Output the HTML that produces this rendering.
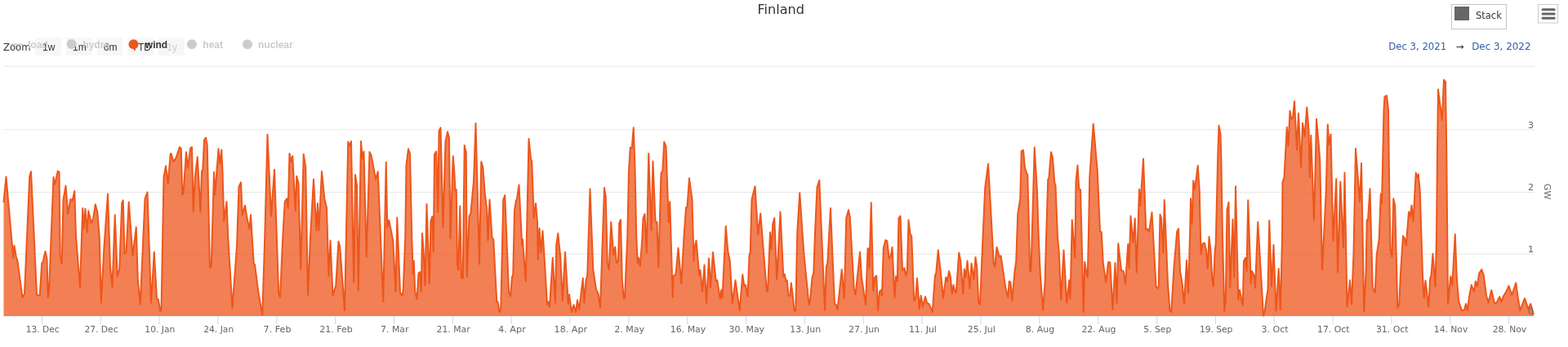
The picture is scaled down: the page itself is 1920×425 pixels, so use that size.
<!DOCTYPE html>
<html><head><meta charset="utf-8"><title>Finland</title>
<style>
html,body{margin:0;padding:0;background:#fff;overflow:hidden}
body{width:1920px;height:425px}
svg{display:block;font-family:"DejaVu Sans","Liberation Sans",sans-serif}
</style></head><body>
<svg width="1920" height="425" viewBox="0 0 1920 425">
<rect width="1920" height="425" fill="#fff"/>
<path d="M4 81.25 H1879" stroke="#e6e6e6" stroke-width="1" fill="none"/><path d="M4 158.75 H1879" stroke="#e6e6e6" stroke-width="1" fill="none"/><path d="M4 235.4 H1879" stroke="#e6e6e6" stroke-width="1" fill="none"/><path d="M4 311.1 H1879" stroke="#e6e6e6" stroke-width="1" fill="none"/>
<path d="M4 387 H1879" stroke="#ccd6eb" stroke-width="1" fill="none"/>
<path d="M4.5 247.1 L7.5 216.6 L16.25 315.85 L17.5 300.85 L20.0 315.85 L21.25 318.35 L27.5 364.6 L30.0 359.6 L36.25 215.85 L38.0 210.1 L45.0 360.85 L48.75 362.1 L51.25 322.1 L52.5 320.85 L55.5 307.85 L57.5 317.1 L58.75 364.6 L60.0 357.1 L65.5 217.1 L67.0 225.85 L70.75 209.6 L72.5 210.85 L73.75 314.6 L75.75 323.35 L77.5 244.6 L80.5 227.6 L83.25 262.1 L86.25 244.1 L88.75 245.1 L91.25 234.1 L93.0 289.6 L98.0 352.1 L100.0 290.6 L101.25 255.1 L102.5 279.6 L104.5 255.85 L106.75 284.6 L108.25 258.35 L111.75 273.35 L114.25 267.1 L116.75 250.35 L119.25 259.6 L121.75 290.6 L123.75 370.85 L127.5 302.1 L132.0 237.6 L135.0 327.1 L137.5 351.6 L140.75 263.35 L143.75 338.35 L146.25 329.6 L149.25 248.35 L150.75 245.35 L152.5 310.85 L154.5 308.35 L157.75 247.6 L162.5 313.35 L166.75 278.35 L168.75 342.1 L171.75 372.6 L177.5 243.35 L180.5 235.35 L185.0 370.85 L188.75 308.85 L192.0 365.85 L193.75 366.6 L196.25 380.85 L197.5 380.35 L200.5 217.1 L203.0 203.35 L205.75 224.6 L208.75 188.35 L209.5 188.1 L212.5 198.1 L215.5 193.35 L220.0 180.1 L221.75 181.85 L223.25 238.35 L224.5 237.1 L228.0 186.35 L230.0 205.85 L233.0 181.85 L235.0 180.1 L236.75 259.6 L238.75 217.1 L241.75 192.35 L245.5 259.6 L247.0 209.6 L248.25 208.85 L250.0 171.85 L252.0 168.6 L253.75 178.1 L257.0 328.35 L258.75 325.85 L262.0 210.85 L263.25 238.35 L267.5 182.35 L269.5 200.6 L271.25 183.6 L272.5 209.6 L274.25 270.85 L277.5 247.1 L279.25 290.6 L284.5 377.1 L290.0 302.1 L292.5 228.35 L295.0 223.35 L296.75 263.35 L300.0 251.6 L302.5 267.1 L305.5 280.85 L307.0 263.35 L310.75 323.35 L312.0 323.85 L316.25 357.1 L321.25 385.85 L324.25 290.6 L327.5 164.85 L332.0 264.6 L336.0 207.85 L341.25 359.6 L343.0 364.1 L346.25 290.6 L348.75 247.1 L351.25 243.35 L352.75 254.6 L354.5 188.1 L356.5 198.1 L358.25 191.1 L361.75 258.35 L363.25 215.85 L365.5 224.6 L368.25 329.6 L371.75 188.85 L374.25 204.6 L377.0 361.6 L380.0 290.6 L384.0 219.6 L387.5 282.1 L389.0 249.1 L390.5 282.1 L394.0 210.1 L397.5 244.6 L400.0 254.6 L402.5 338.35 L404.5 294.6 L407.5 362.1 L411.25 349.6 L414.5 295.85 L416.25 302.1 L422.0 380.1 L426.25 173.85 L428.0 178.6 L430.0 173.1 L433.25 345.85 L435.0 214.1 L437.0 227.1 L438.75 355.85 L442.0 173.1 L443.75 194.35 L445.5 185.6 L448.75 314.6 L452.5 186.1 L454.25 189.35 L455.0 192.1 L457.5 205.85 L460.0 219.6 L462.75 210.35 L469.25 369.6 L472.75 198.85 L474.25 278.35 L476.25 269.6 L481.25 294.6 L484.5 357.1 L486.25 266.6 L490.0 358.35 L492.5 362.1 L493.75 354.6 L496.25 290.6 L497.5 202.1 L500.0 182.35 L502.0 188.1 L504.25 290.6 L505.75 335.85 L506.75 319.6 L508.25 357.1 L510.5 366.35 L512.5 334.6 L514.25 333.35 L515.75 357.1 L517.0 285.85 L518.75 309.6 L520.5 349.6 L522.5 250.1 L525.75 347.1 L527.5 270.85 L529.25 265.1 L530.75 308.35 L532.0 189.6 L532.5 188.1 L534.25 185.6 L536.25 259.6 L537.5 160.6 L539.5 156.35 L542.5 278.35 L545.5 173.1 L548.0 161.35 L550.0 169.35 L551.5 292.1 L554.75 191.35 L556.25 209.6 L557.5 233.35 L558.75 232.1 L560.0 323.35 L561.25 330.85 L563.25 252.6 L565.0 340.1 L566.75 340.85 L568.75 178.1 L570.75 186.85 L571.75 339.1 L574.5 264.6 L576.25 262.1 L580.0 222.1 L582.5 151.1 L587.0 323.35 L589.25 198.1 L591.25 204.6 L593.75 237.1 L596.25 257.1 L597.5 294.6 L599.5 244.6 L602.5 290.85 L604.25 293.35 L608.25 369.6 L609.5 369.6 L611.75 382.6 L613.25 378.35 L616.25 244.6 L618.25 239.1 L623.0 357.1 L625.0 362.6 L627.0 339.6 L628.25 335.85 L630.0 258.35 L631.75 245.85 L633.0 243.35 L635.5 226.6 L639.25 300.85 L640.0 293.35 L643.75 344.6 L647.5 170.1 L650.0 194.35 L651.25 198.35 L653.75 267.1 L656.0 249.1 L658.0 272.1 L658.75 318.35 L660.5 279.6 L662.5 309.6 L664.5 282.85 L666.25 309.6 L670.0 373.35 L671.25 369.6 L673.0 375.85 L676.75 315.85 L680.0 370.85 L681.25 299.6 L683.25 285.85 L686.25 314.6 L688.75 368.35 L692.0 308.85 L695.75 372.1 L697.0 360.85 L700.0 382.1 L702.5 373.35 L705.0 382.6 L707.0 367.6 L709.25 379.1 L713.75 340.85 L715.5 370.85 L717.5 343.35 L719.25 337.1 L722.5 231.6 L726.25 329.6 L730.0 354.6 L732.5 359.6 L735.0 376.6 L740.0 230.1 L741.75 240.85 L743.75 322.1 L745.75 330.1 L748.25 272.1 L751.25 312.1 L753.25 302.6 L755.0 322.1 L757.0 319.6 L758.25 273.35 L760.0 269.1 L761.75 342.1 L763.75 365.85 L765.0 364.6 L768.25 290.6 L770.0 209.6 L771.75 180.6 L773.75 181.1 L775.75 156.35 L777.5 205.6 L779.25 290.6 L780.75 322.1 L782.0 315.85 L783.75 325.85 L786.25 294.6 L787.5 267.1 L789.5 262.1 L791.75 309.6 L794.25 188.1 L797.5 282.1 L799.5 197.6 L802.5 270.85 L804.5 272.1 L806.25 327.1 L809.5 212.1 L811.25 209.6 L813.25 173.85 L815.5 179.35 L818.75 272.1 L820.25 247.1 L823.75 364.1 L824.5 338.35 L827.5 335.85 L830.5 303.85 L834.25 347.1 L837.5 289.6 L840.0 254.1 L841.5 253.35 L844.0 218.35 L847.5 244.6 L849.5 319.6 L850.75 302.1 L852.5 294.6 L856.25 337.1 L857.5 330.85 L860.0 357.1 L862.5 324.6 L865.0 370.85 L868.0 316.6 L870.0 352.1 L873.0 309.1 L876.75 344.6 L878.25 343.35 L881.75 365.85 L883.25 355.35 L884.5 364.6 L888.75 277.1 L891.25 307.1 L893.75 319.6 L896.75 371.6 L900.5 343.35 L905.75 380.35 L909.25 336.35 L911.25 350.1 L913.0 349.1 L915.5 363.35 L917.5 313.35 L918.75 308.35 L920.5 244.6 L924.5 228.35 L928.25 287.1 L931.25 261.6 L938.75 355.85 L940.0 357.1 L943.0 284.6 L944.5 305.85 L946.25 274.6 L948.25 267.1 L951.25 342.1 L955.5 259.6 L959.25 338.35 L960.75 335.85 L962.5 344.6 L963.75 343.35 L965.5 362.1 L967.5 362.6 L968.75 346.6 L970.5 359.6 L972.5 380.35 L974.25 380.85 L976.25 284.6 L979.25 236.35 L984.25 309.6 L987.5 342.1 L990.5 373.35 L991.75 369.6 L994.5 339.6 L996.25 334.6 L998.0 284.6 L1000.5 229.6 L1003.25 220.85 L1006.25 290.6 L1010.0 379.6 L1011.75 327.1 L1013.25 322.1 L1017.0 255.1 L1019.25 309.6 L1022.0 372.1 L1023.75 373.35 L1025.5 379.6 L1030.75 330.1 L1033.75 365.1 L1036.25 267.1 L1039.0 257.1 L1040.75 265.85 L1045.75 354.6 L1047.5 360.85 L1053.0 308.85 L1055.0 339.6 L1060.0 373.35 L1062.5 304.6 L1063.75 304.1 L1064.5 328.35 L1066.75 248.35 L1069.25 355.85 L1071.25 339.6 L1073.25 337.85 L1075.0 380.35 L1077.0 357.1 L1079.25 355.1 L1080.0 362.1 L1081.75 304.6 L1084.25 294.1 L1086.25 295.1 L1088.75 316.6 L1090.5 314.6 L1092.5 302.85 L1095.5 364.6 L1097.0 338.35 L1098.75 344.6 L1100.5 267.1 L1102.5 264.6 L1105.0 330.85 L1107.5 328.35 L1109.25 337.6 L1110.75 332.1 L1112.5 269.6 L1114.5 285.85 L1116.25 289.6 L1119.25 368.35 L1121.25 364.6 L1123.0 340.85 L1125.75 378.35 L1127.75 362.1 L1130.0 375.85 L1133.0 363.35 L1135.5 372.1 L1137.5 372.1 L1141.75 382.1 L1145.0 337.1 L1146.25 334.6 L1148.75 306.35 L1152.0 334.6 L1155.0 365.1 L1158.25 339.6 L1160.0 344.6 L1162.0 332.1 L1163.75 338.35 L1165.75 359.6 L1167.5 349.1 L1169.25 357.1 L1170.75 358.35 L1174.25 309.6 L1176.25 319.6 L1179.25 359.6 L1180.75 329.6 L1182.5 339.6 L1184.5 319.6 L1187.5 353.35 L1189.5 322.85 L1192.5 342.1 L1194.5 315.1 L1196.25 327.1 L1198.25 370.85 L1200.0 372.85 L1203.75 284.6 L1206.25 229.6 L1210.0 200.85 L1212.5 244.6 L1215.0 290.6 L1216.75 323.35 L1218.25 326.6 L1220.5 302.85 L1223.75 314.6 L1225.5 313.35 L1231.25 352.1 L1234.25 364.1 L1235.75 344.6 L1237.5 345.85 L1239.25 368.35 L1242.5 332.1 L1244.25 319.6 L1246.25 262.1 L1249.25 243.35 L1250.75 185.1 L1253.0 183.85 L1255.0 205.85 L1257.0 212.1 L1258.25 213.85 L1261.25 332.6 L1262.5 330.85 L1266.75 180.6 L1270.0 234.6 L1271.75 290.6 L1273.75 334.6 L1277.0 379.6 L1279.5 347.1 L1281.25 284.6 L1283.25 219.6 L1284.25 219.1 L1287.0 186.35 L1289.0 193.1 L1291.25 223.35 L1292.5 227.1 L1295.0 290.6 L1296.75 309.6 L1299.25 367.1 L1302.5 306.6 L1306.25 370.85 L1309.25 343.35 L1310.5 365.85 L1312.75 269.6 L1316.25 315.85 L1317.5 222.1 L1319.5 202.6 L1321.25 231.6 L1323.0 232.1 L1324.5 290.6 L1326.75 382.1 L1328.25 320.85 L1330.0 332.1 L1331.75 339.6 L1333.0 284.6 L1334.25 217.1 L1338.75 151.85 L1343.75 209.6 L1347.0 283.35 L1348.75 284.1 L1350.75 322.1 L1354.25 345.85 L1357.0 321.35 L1359.25 321.35 L1362.5 379.1 L1365.5 322.1 L1367.5 371.6 L1369.25 298.35 L1373.0 330.85 L1375.75 332.1 L1378.0 347.6 L1381.25 299.1 L1382.5 328.35 L1384.5 264.6 L1387.5 297.1 L1389.75 267.6 L1391.75 333.35 L1395.0 232.1 L1396.25 252.1 L1400.0 194.6 L1403.25 280.85 L1405.0 280.35 L1407.0 283.85 L1410.5 260.1 L1415.5 350.85 L1417.5 353.35 L1418.75 350.85 L1420.5 262.6 L1422.0 267.1 L1424.25 309.6 L1425.75 245.1 L1430.0 347.1 L1432.5 380.85 L1434.25 382.1 L1437.5 327.1 L1441.25 283.35 L1443.0 280.1 L1445.0 332.1 L1447.5 345.85 L1450.0 372.1 L1453.0 318.85 L1455.0 358.35 L1457.0 290.6 L1458.0 243.35 L1459.5 274.6 L1461.25 221.35 L1463.0 232.1 L1466.75 202.85 L1468.75 234.6 L1470.5 311.6 L1472.5 298.35 L1475.0 297.6 L1477.0 307.1 L1478.75 329.1 L1480.5 290.1 L1482.5 307.1 L1484.25 340.85 L1485.75 350.85 L1487.5 309.6 L1488.75 297.1 L1491.25 190.6 L1492.5 153.85 L1494.5 164.6 L1495.25 190.6 L1497.0 290.6 L1499.25 380.85 L1500.75 367.1 L1502.5 257.1 L1504.5 247.85 L1506.25 352.1 L1509.5 268.85 L1511.25 339.6 L1513.0 228.35 L1516.25 367.1 L1518.0 355.1 L1520.0 365.85 L1521.75 374.6 L1523.0 319.6 L1525.0 315.85 L1526.5 332.1 L1528.25 245.35 L1531.75 347.1 L1533.0 332.1 L1535.5 337.1 L1537.0 352.6 L1540.25 272.1 L1542.5 309.6 L1547.0 386.6 L1548.75 380.85 L1551.25 362.1 L1552.5 354.6 L1554.25 270.1 L1557.0 350.85 L1559.5 300.1 L1562.5 380.85 L1565.75 329.1 L1567.75 379.1 L1568.75 344.6 L1570.0 290.6 L1570.5 223.35 L1572.5 217.1 L1575.75 155.85 L1577.5 178.35 L1579.5 135.85 L1581.25 145.85 L1583.0 144.6 L1585.0 124.1 L1588.0 183.35 L1590.0 138.85 L1593.0 204.6 L1595.0 150.85 L1597.5 167.1 L1600.25 131.6 L1602.5 159.6 L1603.75 217.1 L1605.25 165.85 L1609.0 269.6 L1612.0 145.85 L1615.0 179.6 L1616.25 197.1 L1619.0 330.35 L1623.75 234.6 L1625.75 152.6 L1627.5 177.1 L1629.5 164.6 L1632.5 294.6 L1636.25 219.1 L1638.0 333.35 L1641.25 222.6 L1645.0 303.35 L1646.5 211.6 L1649.5 375.85 L1653.0 343.35 L1655.0 372.6 L1657.5 309.6 L1660.0 182.1 L1665.0 247.1 L1667.0 200.1 L1670.25 381.6 L1672.5 334.6 L1673.75 269.6 L1675.0 269.6 L1677.5 231.35 L1680.75 352.1 L1683.75 358.35 L1685.75 312.1 L1688.75 292.1 L1690.75 237.6 L1692.0 249.6 L1694.5 134.6 L1695.5 118.35 L1698.0 117.1 L1700.0 134.6 L1701.25 234.6 L1702.5 304.6 L1704.5 314.6 L1706.25 243.35 L1708.25 252.1 L1711.25 377.1 L1713.25 372.1 L1715.0 334.6 L1718.0 289.1 L1720.0 292.1 L1721.75 300.85 L1725.0 259.6 L1726.75 264.6 L1728.5 251.6 L1730.5 270.85 L1733.75 211.6 L1735.0 217.1 L1736.75 213.35 L1738.75 234.6 L1742.0 337.1 L1743.75 364.6 L1745.5 343.85 L1749.25 375.85 L1751.25 340.85 L1752.5 337.1 L1754.5 310.85 L1757.5 350.85 L1759.0 290.6 L1760.0 184.6 L1761.0 109.6 L1765.75 147.1 L1768.0 97.85 L1770.0 100.1 L1771.25 184.6 L1773.0 372.6 L1776.25 338.35 L1778.25 349.1 L1781.75 287.1 L1783.75 339.6 L1786.25 369.6 L1790.0 380.35 L1793.0 379.6 L1795.0 372.1 L1796.75 380.35 L1799.25 362.1 L1801.75 349.1 L1805.0 357.1 L1806.75 344.6 L1808.75 350.85 L1811.25 334.6 L1814.25 330.1 L1816.75 337.1 L1820.0 362.1 L1822.5 370.85 L1826.25 355.35 L1830.0 371.35 L1832.5 370.85 L1836.25 363.35 L1838.25 369.6 L1841.25 362.1 L1843.75 358.35 L1847.5 350.1 L1851.25 361.6 L1856.25 346.35 L1858.0 359.6 L1861.25 380.35 L1867.0 365.35 L1871.25 378.35 L1874.25 372.1 L1876.25 379.6 L1877.75 384.6 L1877.75 387.0 L4.5 387.0 Z" fill="#ed561b" fill-opacity="0.75" stroke="none"/>
<path d="M4.5 247.1 L7.5 216.6 L16.25 315.85 L17.5 300.85 L20.0 315.85 L21.25 318.35 L27.5 364.6 L30.0 359.6 L36.25 215.85 L38.0 210.1 L45.0 360.85 L48.75 362.1 L51.25 322.1 L52.5 320.85 L55.5 307.85 L57.5 317.1 L58.75 364.6 L60.0 357.1 L65.5 217.1 L67.0 225.85 L70.75 209.6 L72.5 210.85 L73.75 314.6 L75.75 323.35 L77.5 244.6 L80.5 227.6 L83.25 262.1 L86.25 244.1 L88.75 245.1 L91.25 234.1 L93.0 289.6 L98.0 352.1 L100.0 290.6 L101.25 255.1 L102.5 279.6 L104.5 255.85 L106.75 284.6 L108.25 258.35 L111.75 273.35 L114.25 267.1 L116.75 250.35 L119.25 259.6 L121.75 290.6 L123.75 370.85 L127.5 302.1 L132.0 237.6 L135.0 327.1 L137.5 351.6 L140.75 263.35 L143.75 338.35 L146.25 329.6 L149.25 248.35 L150.75 245.35 L152.5 310.85 L154.5 308.35 L157.75 247.6 L162.5 313.35 L166.75 278.35 L168.75 342.1 L171.75 372.6 L177.5 243.35 L180.5 235.35 L185.0 370.85 L188.75 308.85 L192.0 365.85 L193.75 366.6 L196.25 380.85 L197.5 380.35 L200.5 217.1 L203.0 203.35 L205.75 224.6 L208.75 188.35 L209.5 188.1 L212.5 198.1 L215.5 193.35 L220.0 180.1 L221.75 181.85 L223.25 238.35 L224.5 237.1 L228.0 186.35 L230.0 205.85 L233.0 181.85 L235.0 180.1 L236.75 259.6 L238.75 217.1 L241.75 192.35 L245.5 259.6 L247.0 209.6 L248.25 208.85 L250.0 171.85 L252.0 168.6 L253.75 178.1 L257.0 328.35 L258.75 325.85 L262.0 210.85 L263.25 238.35 L267.5 182.35 L269.5 200.6 L271.25 183.6 L272.5 209.6 L274.25 270.85 L277.5 247.1 L279.25 290.6 L284.5 377.1 L290.0 302.1 L292.5 228.35 L295.0 223.35 L296.75 263.35 L300.0 251.6 L302.5 267.1 L305.5 280.85 L307.0 263.35 L310.75 323.35 L312.0 323.85 L316.25 357.1 L321.25 385.85 L324.25 290.6 L327.5 164.85 L332.0 264.6 L336.0 207.85 L341.25 359.6 L343.0 364.1 L346.25 290.6 L348.75 247.1 L351.25 243.35 L352.75 254.6 L354.5 188.1 L356.5 198.1 L358.25 191.1 L361.75 258.35 L363.25 215.85 L365.5 224.6 L368.25 329.6 L371.75 188.85 L374.25 204.6 L377.0 361.6 L380.0 290.6 L384.0 219.6 L387.5 282.1 L389.0 249.1 L390.5 282.1 L394.0 210.1 L397.5 244.6 L400.0 254.6 L402.5 338.35 L404.5 294.6 L407.5 362.1 L411.25 349.6 L414.5 295.85 L416.25 302.1 L422.0 380.1 L426.25 173.85 L428.0 178.6 L430.0 173.1 L433.25 345.85 L435.0 214.1 L437.0 227.1 L438.75 355.85 L442.0 173.1 L443.75 194.35 L445.5 185.6 L448.75 314.6 L452.5 186.1 L454.25 189.35 L455.0 192.1 L457.5 205.85 L460.0 219.6 L462.75 210.35 L469.25 369.6 L472.75 198.85 L474.25 278.35 L476.25 269.6 L481.25 294.6 L484.5 357.1 L486.25 266.6 L490.0 358.35 L492.5 362.1 L493.75 354.6 L496.25 290.6 L497.5 202.1 L500.0 182.35 L502.0 188.1 L504.25 290.6 L505.75 335.85 L506.75 319.6 L508.25 357.1 L510.5 366.35 L512.5 334.6 L514.25 333.35 L515.75 357.1 L517.0 285.85 L518.75 309.6 L520.5 349.6 L522.5 250.1 L525.75 347.1 L527.5 270.85 L529.25 265.1 L530.75 308.35 L532.0 189.6 L532.5 188.1 L534.25 185.6 L536.25 259.6 L537.5 160.6 L539.5 156.35 L542.5 278.35 L545.5 173.1 L548.0 161.35 L550.0 169.35 L551.5 292.1 L554.75 191.35 L556.25 209.6 L557.5 233.35 L558.75 232.1 L560.0 323.35 L561.25 330.85 L563.25 252.6 L565.0 340.1 L566.75 340.85 L568.75 178.1 L570.75 186.85 L571.75 339.1 L574.5 264.6 L576.25 262.1 L580.0 222.1 L582.5 151.1 L587.0 323.35 L589.25 198.1 L591.25 204.6 L593.75 237.1 L596.25 257.1 L597.5 294.6 L599.5 244.6 L602.5 290.85 L604.25 293.35 L608.25 369.6 L609.5 369.6 L611.75 382.6 L613.25 378.35 L616.25 244.6 L618.25 239.1 L623.0 357.1 L625.0 362.6 L627.0 339.6 L628.25 335.85 L630.0 258.35 L631.75 245.85 L633.0 243.35 L635.5 226.6 L639.25 300.85 L640.0 293.35 L643.75 344.6 L647.5 170.1 L650.0 194.35 L651.25 198.35 L653.75 267.1 L656.0 249.1 L658.0 272.1 L658.75 318.35 L660.5 279.6 L662.5 309.6 L664.5 282.85 L666.25 309.6 L670.0 373.35 L671.25 369.6 L673.0 375.85 L676.75 315.85 L680.0 370.85 L681.25 299.6 L683.25 285.85 L686.25 314.6 L688.75 368.35 L692.0 308.85 L695.75 372.1 L697.0 360.85 L700.0 382.1 L702.5 373.35 L705.0 382.6 L707.0 367.6 L709.25 379.1 L713.75 340.85 L715.5 370.85 L717.5 343.35 L719.25 337.1 L722.5 231.6 L726.25 329.6 L730.0 354.6 L732.5 359.6 L735.0 376.6 L740.0 230.1 L741.75 240.85 L743.75 322.1 L745.75 330.1 L748.25 272.1 L751.25 312.1 L753.25 302.6 L755.0 322.1 L757.0 319.6 L758.25 273.35 L760.0 269.1 L761.75 342.1 L763.75 365.85 L765.0 364.6 L768.25 290.6 L770.0 209.6 L771.75 180.6 L773.75 181.1 L775.75 156.35 L777.5 205.6 L779.25 290.6 L780.75 322.1 L782.0 315.85 L783.75 325.85 L786.25 294.6 L787.5 267.1 L789.5 262.1 L791.75 309.6 L794.25 188.1 L797.5 282.1 L799.5 197.6 L802.5 270.85 L804.5 272.1 L806.25 327.1 L809.5 212.1 L811.25 209.6 L813.25 173.85 L815.5 179.35 L818.75 272.1 L820.25 247.1 L823.75 364.1 L824.5 338.35 L827.5 335.85 L830.5 303.85 L834.25 347.1 L837.5 289.6 L840.0 254.1 L841.5 253.35 L844.0 218.35 L847.5 244.6 L849.5 319.6 L850.75 302.1 L852.5 294.6 L856.25 337.1 L857.5 330.85 L860.0 357.1 L862.5 324.6 L865.0 370.85 L868.0 316.6 L870.0 352.1 L873.0 309.1 L876.75 344.6 L878.25 343.35 L881.75 365.85 L883.25 355.35 L884.5 364.6 L888.75 277.1 L891.25 307.1 L893.75 319.6 L896.75 371.6 L900.5 343.35 L905.75 380.35 L909.25 336.35 L911.25 350.1 L913.0 349.1 L915.5 363.35 L917.5 313.35 L918.75 308.35 L920.5 244.6 L924.5 228.35 L928.25 287.1 L931.25 261.6 L938.75 355.85 L940.0 357.1 L943.0 284.6 L944.5 305.85 L946.25 274.6 L948.25 267.1 L951.25 342.1 L955.5 259.6 L959.25 338.35 L960.75 335.85 L962.5 344.6 L963.75 343.35 L965.5 362.1 L967.5 362.6 L968.75 346.6 L970.5 359.6 L972.5 380.35 L974.25 380.85 L976.25 284.6 L979.25 236.35 L984.25 309.6 L987.5 342.1 L990.5 373.35 L991.75 369.6 L994.5 339.6 L996.25 334.6 L998.0 284.6 L1000.5 229.6 L1003.25 220.85 L1006.25 290.6 L1010.0 379.6 L1011.75 327.1 L1013.25 322.1 L1017.0 255.1 L1019.25 309.6 L1022.0 372.1 L1023.75 373.35 L1025.5 379.6 L1030.75 330.1 L1033.75 365.1 L1036.25 267.1 L1039.0 257.1 L1040.75 265.85 L1045.75 354.6 L1047.5 360.85 L1053.0 308.85 L1055.0 339.6 L1060.0 373.35 L1062.5 304.6 L1063.75 304.1 L1064.5 328.35 L1066.75 248.35 L1069.25 355.85 L1071.25 339.6 L1073.25 337.85 L1075.0 380.35 L1077.0 357.1 L1079.25 355.1 L1080.0 362.1 L1081.75 304.6 L1084.25 294.1 L1086.25 295.1 L1088.75 316.6 L1090.5 314.6 L1092.5 302.85 L1095.5 364.6 L1097.0 338.35 L1098.75 344.6 L1100.5 267.1 L1102.5 264.6 L1105.0 330.85 L1107.5 328.35 L1109.25 337.6 L1110.75 332.1 L1112.5 269.6 L1114.5 285.85 L1116.25 289.6 L1119.25 368.35 L1121.25 364.6 L1123.0 340.85 L1125.75 378.35 L1127.75 362.1 L1130.0 375.85 L1133.0 363.35 L1135.5 372.1 L1137.5 372.1 L1141.75 382.1 L1145.0 337.1 L1146.25 334.6 L1148.75 306.35 L1152.0 334.6 L1155.0 365.1 L1158.25 339.6 L1160.0 344.6 L1162.0 332.1 L1163.75 338.35 L1165.75 359.6 L1167.5 349.1 L1169.25 357.1 L1170.75 358.35 L1174.25 309.6 L1176.25 319.6 L1179.25 359.6 L1180.75 329.6 L1182.5 339.6 L1184.5 319.6 L1187.5 353.35 L1189.5 322.85 L1192.5 342.1 L1194.5 315.1 L1196.25 327.1 L1198.25 370.85 L1200.0 372.85 L1203.75 284.6 L1206.25 229.6 L1210.0 200.85 L1212.5 244.6 L1215.0 290.6 L1216.75 323.35 L1218.25 326.6 L1220.5 302.85 L1223.75 314.6 L1225.5 313.35 L1231.25 352.1 L1234.25 364.1 L1235.75 344.6 L1237.5 345.85 L1239.25 368.35 L1242.5 332.1 L1244.25 319.6 L1246.25 262.1 L1249.25 243.35 L1250.75 185.1 L1253.0 183.85 L1255.0 205.85 L1257.0 212.1 L1258.25 213.85 L1261.25 332.6 L1262.5 330.85 L1266.75 180.6 L1270.0 234.6 L1271.75 290.6 L1273.75 334.6 L1277.0 379.6 L1279.5 347.1 L1281.25 284.6 L1283.25 219.6 L1284.25 219.1 L1287.0 186.35 L1289.0 193.1 L1291.25 223.35 L1292.5 227.1 L1295.0 290.6 L1296.75 309.6 L1299.25 367.1 L1302.5 306.6 L1306.25 370.85 L1309.25 343.35 L1310.5 365.85 L1312.75 269.6 L1316.25 315.85 L1317.5 222.1 L1319.5 202.6 L1321.25 231.6 L1323.0 232.1 L1324.5 290.6 L1326.75 382.1 L1328.25 320.85 L1330.0 332.1 L1331.75 339.6 L1333.0 284.6 L1334.25 217.1 L1338.75 151.85 L1343.75 209.6 L1347.0 283.35 L1348.75 284.1 L1350.75 322.1 L1354.25 345.85 L1357.0 321.35 L1359.25 321.35 L1362.5 379.1 L1365.5 322.1 L1367.5 371.6 L1369.25 298.35 L1373.0 330.85 L1375.75 332.1 L1378.0 347.6 L1381.25 299.1 L1382.5 328.35 L1384.5 264.6 L1387.5 297.1 L1389.75 267.6 L1391.75 333.35 L1395.0 232.1 L1396.25 252.1 L1400.0 194.6 L1403.25 280.85 L1405.0 280.35 L1407.0 283.85 L1410.5 260.1 L1415.5 350.85 L1417.5 353.35 L1418.75 350.85 L1420.5 262.6 L1422.0 267.1 L1424.25 309.6 L1425.75 245.1 L1430.0 347.1 L1432.5 380.85 L1434.25 382.1 L1437.5 327.1 L1441.25 283.35 L1443.0 280.1 L1445.0 332.1 L1447.5 345.85 L1450.0 372.1 L1453.0 318.85 L1455.0 358.35 L1457.0 290.6 L1458.0 243.35 L1459.5 274.6 L1461.25 221.35 L1463.0 232.1 L1466.75 202.85 L1468.75 234.6 L1470.5 311.6 L1472.5 298.35 L1475.0 297.6 L1477.0 307.1 L1478.75 329.1 L1480.5 290.1 L1482.5 307.1 L1484.25 340.85 L1485.75 350.85 L1487.5 309.6 L1488.75 297.1 L1491.25 190.6 L1492.5 153.85 L1494.5 164.6 L1495.25 190.6 L1497.0 290.6 L1499.25 380.85 L1500.75 367.1 L1502.5 257.1 L1504.5 247.85 L1506.25 352.1 L1509.5 268.85 L1511.25 339.6 L1513.0 228.35 L1516.25 367.1 L1518.0 355.1 L1520.0 365.85 L1521.75 374.6 L1523.0 319.6 L1525.0 315.85 L1526.5 332.1 L1528.25 245.35 L1531.75 347.1 L1533.0 332.1 L1535.5 337.1 L1537.0 352.6 L1540.25 272.1 L1542.5 309.6 L1547.0 386.6 L1548.75 380.85 L1551.25 362.1 L1552.5 354.6 L1554.25 270.1 L1557.0 350.85 L1559.5 300.1 L1562.5 380.85 L1565.75 329.1 L1567.75 379.1 L1568.75 344.6 L1570.0 290.6 L1570.5 223.35 L1572.5 217.1 L1575.75 155.85 L1577.5 178.35 L1579.5 135.85 L1581.25 145.85 L1583.0 144.6 L1585.0 124.1 L1588.0 183.35 L1590.0 138.85 L1593.0 204.6 L1595.0 150.85 L1597.5 167.1 L1600.25 131.6 L1602.5 159.6 L1603.75 217.1 L1605.25 165.85 L1609.0 269.6 L1612.0 145.85 L1615.0 179.6 L1616.25 197.1 L1619.0 330.35 L1623.75 234.6 L1625.75 152.6 L1627.5 177.1 L1629.5 164.6 L1632.5 294.6 L1636.25 219.1 L1638.0 333.35 L1641.25 222.6 L1645.0 303.35 L1646.5 211.6 L1649.5 375.85 L1653.0 343.35 L1655.0 372.6 L1657.5 309.6 L1660.0 182.1 L1665.0 247.1 L1667.0 200.1 L1670.25 381.6 L1672.5 334.6 L1673.75 269.6 L1675.0 269.6 L1677.5 231.35 L1680.75 352.1 L1683.75 358.35 L1685.75 312.1 L1688.75 292.1 L1690.75 237.6 L1692.0 249.6 L1694.5 134.6 L1695.5 118.35 L1698.0 117.1 L1700.0 134.6 L1701.25 234.6 L1702.5 304.6 L1704.5 314.6 L1706.25 243.35 L1708.25 252.1 L1711.25 377.1 L1713.25 372.1 L1715.0 334.6 L1718.0 289.1 L1720.0 292.1 L1721.75 300.85 L1725.0 259.6 L1726.75 264.6 L1728.5 251.6 L1730.5 270.85 L1733.75 211.6 L1735.0 217.1 L1736.75 213.35 L1738.75 234.6 L1742.0 337.1 L1743.75 364.6 L1745.5 343.85 L1749.25 375.85 L1751.25 340.85 L1752.5 337.1 L1754.5 310.85 L1757.5 350.85 L1759.0 290.6 L1760.0 184.6 L1761.0 109.6 L1765.75 147.1 L1768.0 97.85 L1770.0 100.1 L1771.25 184.6 L1773.0 372.6 L1776.25 338.35 L1778.25 349.1 L1781.75 287.1 L1783.75 339.6 L1786.25 369.6 L1790.0 380.35 L1793.0 379.6 L1795.0 372.1 L1796.75 380.35 L1799.25 362.1 L1801.75 349.1 L1805.0 357.1 L1806.75 344.6 L1808.75 350.85 L1811.25 334.6 L1814.25 330.1 L1816.75 337.1 L1820.0 362.1 L1822.5 370.85 L1826.25 355.35 L1830.0 371.35 L1832.5 370.85 L1836.25 363.35 L1838.25 369.6 L1841.25 362.1 L1843.75 358.35 L1847.5 350.1 L1851.25 361.6 L1856.25 346.35 L1858.0 359.6 L1861.25 380.35 L1867.0 365.35 L1871.25 378.35 L1874.25 372.1 L1876.25 379.6 L1877.75 384.6" fill="none" stroke="#ed561b" stroke-width="2" stroke-linejoin="round" stroke-linecap="round"/>
<path d="M51.35 387.5 V397" stroke="#ccd6eb" stroke-width="1" fill="none"/><path d="M123.2 387.5 V397" stroke="#ccd6eb" stroke-width="1" fill="none"/><path d="M195.05 387.5 V397" stroke="#ccd6eb" stroke-width="1" fill="none"/><path d="M266.9 387.5 V397" stroke="#ccd6eb" stroke-width="1" fill="none"/><path d="M338.75 387.5 V397" stroke="#ccd6eb" stroke-width="1" fill="none"/><path d="M410.6 387.5 V397" stroke="#ccd6eb" stroke-width="1" fill="none"/><path d="M482.45 387.5 V397" stroke="#ccd6eb" stroke-width="1" fill="none"/><path d="M554.3 387.5 V397" stroke="#ccd6eb" stroke-width="1" fill="none"/><path d="M626.15 387.5 V397" stroke="#ccd6eb" stroke-width="1" fill="none"/><path d="M698.0 387.5 V397" stroke="#ccd6eb" stroke-width="1" fill="none"/><path d="M769.85 387.5 V397" stroke="#ccd6eb" stroke-width="1" fill="none"/><path d="M841.7 387.5 V397" stroke="#ccd6eb" stroke-width="1" fill="none"/><path d="M913.55 387.5 V397" stroke="#ccd6eb" stroke-width="1" fill="none"/><path d="M985.4 387.5 V397" stroke="#ccd6eb" stroke-width="1" fill="none"/><path d="M1057.25 387.5 V397" stroke="#ccd6eb" stroke-width="1" fill="none"/><path d="M1129.1 387.5 V397" stroke="#ccd6eb" stroke-width="1" fill="none"/><path d="M1200.95 387.5 V397" stroke="#ccd6eb" stroke-width="1" fill="none"/><path d="M1272.8 387.5 V397" stroke="#ccd6eb" stroke-width="1" fill="none"/><path d="M1344.65 387.5 V397" stroke="#ccd6eb" stroke-width="1" fill="none"/><path d="M1416.5 387.5 V397" stroke="#ccd6eb" stroke-width="1" fill="none"/><path d="M1488.35 387.5 V397" stroke="#ccd6eb" stroke-width="1" fill="none"/><path d="M1560.2 387.5 V397" stroke="#ccd6eb" stroke-width="1" fill="none"/><path d="M1632.05 387.5 V397" stroke="#ccd6eb" stroke-width="1" fill="none"/><path d="M1703.9 387.5 V397" stroke="#ccd6eb" stroke-width="1" fill="none"/><path d="M1775.75 387.5 V397" stroke="#ccd6eb" stroke-width="1" fill="none"/><path d="M1847.6 387.5 V397" stroke="#ccd6eb" stroke-width="1" fill="none"/>
<text x="31.65" y="406.6" font-size="11" fill="#666" textLength="41" lengthAdjust="spacingAndGlyphs">13. Dec</text><text x="103.5" y="406.6" font-size="11" fill="#666" textLength="41" lengthAdjust="spacingAndGlyphs">27. Dec</text><text x="177.35" y="406.6" font-size="11" fill="#666" textLength="37" lengthAdjust="spacingAndGlyphs">10. Jan</text><text x="249.2" y="406.6" font-size="11" fill="#666" textLength="37" lengthAdjust="spacingAndGlyphs">24. Jan</text><text x="322.55" y="406.6" font-size="11" fill="#666" textLength="34" lengthAdjust="spacingAndGlyphs">7. Feb</text><text x="391.15" y="406.6" font-size="11" fill="#666" textLength="40.5" lengthAdjust="spacingAndGlyphs">21. Feb</text><text x="466.0" y="406.6" font-size="11" fill="#666" textLength="34.5" lengthAdjust="spacingAndGlyphs">7. Mar</text><text x="534.6" y="406.6" font-size="11" fill="#666" textLength="41" lengthAdjust="spacingAndGlyphs">21. Mar</text><text x="609.95" y="406.6" font-size="11" fill="#666" textLength="34" lengthAdjust="spacingAndGlyphs">4. Apr</text><text x="678.55" y="406.6" font-size="11" fill="#666" textLength="40.5" lengthAdjust="spacingAndGlyphs">18. Apr</text><text x="752.15" y="406.6" font-size="11" fill="#666" textLength="37" lengthAdjust="spacingAndGlyphs">2. May</text><text x="820.75" y="406.6" font-size="11" fill="#666" textLength="43.5" lengthAdjust="spacingAndGlyphs">16. May</text><text x="892.6" y="406.6" font-size="11" fill="#666" textLength="43.5" lengthAdjust="spacingAndGlyphs">30. May</text><text x="967.2" y="406.6" font-size="11" fill="#666" textLength="38" lengthAdjust="spacingAndGlyphs">13. Jun</text><text x="1039.05" y="406.6" font-size="11" fill="#666" textLength="38" lengthAdjust="spacingAndGlyphs">27. Jun</text><text x="1112.9" y="406.6" font-size="11" fill="#666" textLength="34" lengthAdjust="spacingAndGlyphs">11. Jul</text><text x="1184.75" y="406.6" font-size="11" fill="#666" textLength="34" lengthAdjust="spacingAndGlyphs">25. Jul</text><text x="1255.85" y="406.6" font-size="11" fill="#666" textLength="35.5" lengthAdjust="spacingAndGlyphs">8. Aug</text><text x="1324.45" y="406.6" font-size="11" fill="#666" textLength="42" lengthAdjust="spacingAndGlyphs">22. Aug</text><text x="1400.3" y="406.6" font-size="11" fill="#666" textLength="34" lengthAdjust="spacingAndGlyphs">5. Sep</text><text x="1468.9" y="406.6" font-size="11" fill="#666" textLength="40.5" lengthAdjust="spacingAndGlyphs">19. Sep</text><text x="1544.5" y="406.6" font-size="11" fill="#666" textLength="33" lengthAdjust="spacingAndGlyphs">3. Oct</text><text x="1613.1" y="406.6" font-size="11" fill="#666" textLength="39.5" lengthAdjust="spacingAndGlyphs">17. Oct</text><text x="1684.95" y="406.6" font-size="11" fill="#666" textLength="39.5" lengthAdjust="spacingAndGlyphs">31. Oct</text><text x="1755.8" y="406.6" font-size="11" fill="#666" textLength="41.5" lengthAdjust="spacingAndGlyphs">14. Nov</text><text x="1827.65" y="406.6" font-size="11" fill="#666" textLength="41.5" lengthAdjust="spacingAndGlyphs">28. Nov</text>
<text x="1878" y="156.6" font-size="11" fill="#666" text-anchor="end">3</text><text x="1878" y="233.2" font-size="11" fill="#666" text-anchor="end">2</text><text x="1878" y="309" font-size="11" fill="#666" text-anchor="end">1</text><text x="1878" y="384.9" font-size="11" fill="#666" text-anchor="end">0</text>
<text transform="translate(1890.8 234.6) rotate(90)" font-size="11" fill="#666" text-anchor="middle" textLength="19.5" lengthAdjust="spacingAndGlyphs">GW</text>
<text x="927.5" y="17.1" font-size="16.7" fill="#333" textLength="57.5" lengthAdjust="spacingAndGlyphs">Finland</text>
<!-- range selector -->
<text x="4" y="61.8" font-size="12" fill="#333" textLength="33.5" lengthAdjust="spacingAndGlyphs">Zoom</text>
<rect x="43.0" y="46" width="32" height="22" rx="2" fill="#f7f7f7"/><text x="59.7" y="61.8" font-size="12" fill="#333" text-anchor="middle" font-family="Liberation Sans, sans-serif">1w</text><rect x="80.75" y="46" width="32" height="22" rx="2" fill="#f7f7f7"/><text x="97.45" y="61.8" font-size="12" fill="#333" text-anchor="middle" font-family="Liberation Sans, sans-serif">1m</text><rect x="118.5" y="46" width="32" height="22" rx="2" fill="#f7f7f7"/><text x="135.2" y="61.8" font-size="12" fill="#333" text-anchor="middle" font-family="Liberation Sans, sans-serif">6m</text><rect x="156.25" y="46" width="32" height="22" rx="2" fill="#f7f7f7"/><text x="172.95" y="61.8" font-size="12" fill="#333" text-anchor="middle" font-family="Liberation Sans, sans-serif">YTD</text><rect x="194.0" y="46" width="32" height="22" rx="2" fill="#f7f7f7"/><text x="210.7" y="61.8" font-size="12" fill="#ccc" text-anchor="middle" font-family="Liberation Sans, sans-serif">1y</text>
<!-- legend -->
<path d="M12.4 54.5 H28.4" stroke="#ccc" stroke-width="2" fill="none"/><text x="34" y="59.4" font-size="12" fill="#ccc" font-weight="bold" font-family="Liberation Sans, sans-serif">load</text><circle cx="87.7" cy="54" r="6" fill="#ccc"/><text x="101.3" y="59.4" font-size="12" fill="#ccc" font-weight="bold" font-family="Liberation Sans, sans-serif">hydro</text><circle cx="163.5" cy="54.2" r="6" fill="#ed561b"/><text x="177.8" y="59.4" font-size="12" fill="#333" font-weight="bold" font-family="Liberation Sans, sans-serif">wind</text><circle cx="234.9" cy="54.2" r="6" fill="#ccc"/><text x="248.3" y="59.4" font-size="12" fill="#ccc" font-weight="bold" font-family="Liberation Sans, sans-serif">heat</text><circle cx="303" cy="54.2" r="6" fill="#ccc"/><text x="316" y="59.4" font-size="12" fill="#ccc" font-weight="bold" font-family="Liberation Sans, sans-serif">nuclear</text>
<!-- date inputs -->
<text x="1700.2" y="61.2" font-size="12" fill="#335cad" textLength="71" lengthAdjust="spacingAndGlyphs">Dec 3, 2021</text>
<text x="1782.5" y="61.2" font-size="12" fill="#333">→</text>
<text x="1802.2" y="61.2" font-size="12" fill="#335cad" textLength="72.3" lengthAdjust="spacingAndGlyphs">Dec 3, 2022</text>
<!-- stack button -->
<rect x="1777.5" y="5.5" width="67" height="30" fill="#fff" stroke="#c4c4c4" stroke-width="1"/>
<rect x="1781" y="8" width="18" height="17" fill="#666"/>
<text x="1807" y="22.8" font-size="13" fill="#333" textLength="31.8" lengthAdjust="spacingAndGlyphs">Stack</text>
<!-- menu -->
<rect x="1883.5" y="5.5" width="24" height="22.5" fill="#fff" stroke="#ccc" stroke-width="1"/>
<path d="M1889 11.75 H1903.2 M1889 17 H1903.2 M1889 22.2 H1903.2" stroke="#666" stroke-width="3" stroke-linecap="round" fill="none"/>
</svg>
</body></html>
